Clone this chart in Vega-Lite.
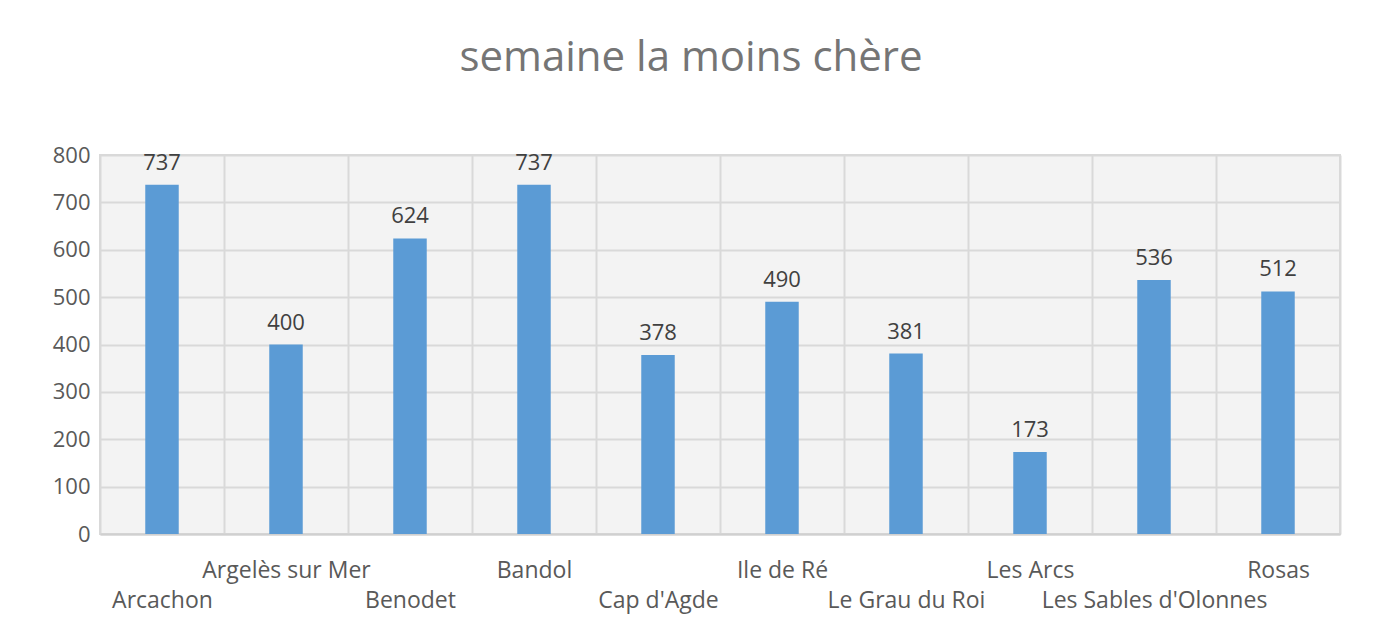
{
  "$schema": "https://vega.github.io/schema/vega-lite/v6.json",
  "width": 1240,
  "height": 379,
  "autosize": "none",
  "padding": {"left": 100, "top": 155, "right": 34, "bottom": 108},
  "background": "white",
  "title": {
    "text": "semaine la moins chère",
    "font": "Open Sans",
    "fontSize": 42,
    "fontWeight": "normal",
    "color": "#757575",
    "anchor": "middle",
    "baseline": "alphabetic",
    "offset": 31,
    "dx": -29
  },
  "data": {
    "values": [
      {"ville": "Arcachon", "prix": 737},
      {"ville": "Argelès sur Mer", "prix": 400},
      {"ville": "Benodet", "prix": 624},
      {"ville": "Bandol", "prix": 737},
      {"ville": "Cap d'Agde", "prix": 378},
      {"ville": "Ile de Ré", "prix": 490},
      {"ville": "Le Grau du Roi", "prix": 381},
      {"ville": "Les Arcs", "prix": 173},
      {"ville": "Les Sables d'Olonnes", "prix": 536},
      {"ville": "Rosas", "prix": 512}
    ]
  },
  "encoding": {
    "x": {
      "field": "ville",
      "type": "nominal",
      "sort": null,
      "scale": {"paddingInner": 0, "paddingOuter": 0},
      "axis": {
        "title": null,
        "labelAngle": 0,
        "labelFont": "Open Sans",
        "labelFontSize": 23,
        "labelColor": "#595959",
        "labelPadding": 25,
        "labelBaseline": "top",
        "labelLineHeight": 30,
        "labelLimit": 400,
        "labelOverlap": false,
        "labelExpr": "indexof(['Argelès sur Mer','Bandol','Ile de Ré','Les Arcs','Rosas'], datum.value) >= 0 ? datum.label : ['', datum.label]",
        "ticks": false,
        "tickBand": "extent",
        "grid": true,
        "gridColor": "#d9d9d9",
        "gridWidth": 2,
        "domain": true,
        "domainColor": "#d0d0d0",
        "domainWidth": 2
      }
    },
    "y": {
      "field": "prix",
      "type": "quantitative",
      "scale": {"domain": [0, 800], "nice": false},
      "axis": {
        "title": null,
        "values": [0, 100, 200, 300, 400, 500, 600, 700, 800],
        "labelFont": "Open Sans",
        "labelFontSize": 22,
        "labelColor": "#595959",
        "labelPadding": 10,
        "ticks": false,
        "domain": false,
        "grid": true,
        "gridColor": "#d9d9d9",
        "gridWidth": 2
      }
    }
  },
  "layer": [
    {"mark": {"type": "bar", "color": "#5b9bd5", "width": {"band": 0.27}}},
    {
      "mark": {
        "type": "text",
        "font": "Open Sans",
        "fontSize": 22,
        "color": "#404040",
        "baseline": "alphabetic",
        "dy": -15
      },
      "encoding": {"text": {"field": "prix", "type": "quantitative"}}
    }
  ],
  "config": {
    "view": {"stroke": "#d9d9d9", "strokeWidth": 2, "fill": "#f3f3f3"}
  }
}
